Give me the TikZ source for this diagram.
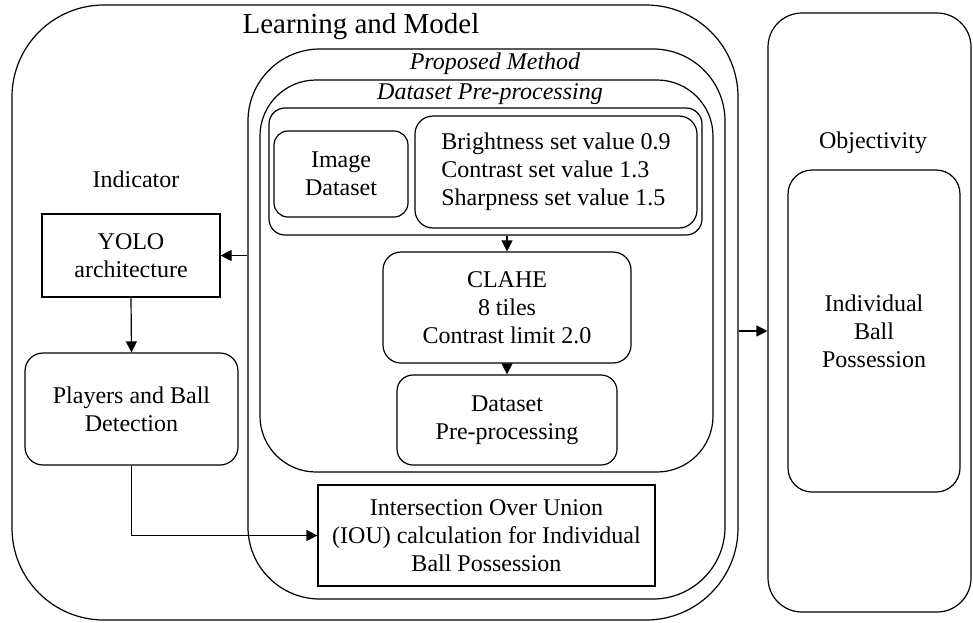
\documentclass[tikz,border=0pt]{standalone}
\usepackage{fontspec}
\setmainfont{Liberation Serif}
\usetikzlibrary{arrows.meta}

\begin{document}
\begin{tikzpicture}[x=0.5pt,y=-0.5pt,line width=0.6pt,
  box/.style={draw,align=center,inner sep=0pt,font=\fontsize{12}{14}\selectfont},
  arr/.style={-{Triangle[length=5.5pt,width=5.5pt]}}]
\useasboundingbox (0,0) rectangle (973,622);
% containers
\node[box,rounded corners=46pt,minimum width=363pt,minimum height=307.5pt] (lm) at (375,312.5) {};
\node[box,rounded corners=36pt,minimum width=238.5pt,minimum height=275pt] (pm) at (486.5,324) {};
\node[box,rounded corners=28pt,minimum width=226.5pt,minimum height=196pt] (dp) at (486.5,276) {};
\node[box,rounded corners=8pt,minimum width=216.5pt,minimum height=63.5pt] (ip) at (485.5,171.5) {};
\node[box,rounded corners=17pt,minimum width=101.5pt,minimum height=299.5pt] (obj) at (869.5,312.5) {};
% boxes
\node[box,rounded corners=7pt,minimum width=67pt,minimum height=43pt] (img) at (341,174) {Image\\Dataset};
\node[box,rounded corners=9pt,minimum width=141pt,minimum height=56pt,align=left] (bcs) at (556,172) {Brightness set value 0.9\\Contrast set value 1.3\\Sharpness set value 1.5};
\node[box,rounded corners=9pt,minimum width=124pt,minimum height=55.5pt] (clahe) at (507,307.5) {CLAHE\\8 tiles\\Contrast limit 2.0};
\node[box,rounded corners=8pt,minimum width=110pt,minimum height=45pt] (dset) at (507,420) {Dataset\\Pre-processing};
\node[box,minimum width=168.5pt,minimum height=50.5pt] (iou) at (486.5,535.5) {Intersection Over Union\\(IOU) calculation for Individual\\Ball Possession};
\node[box,minimum width=89pt,minimum height=41.5pt] (yolo) at (131,255.5) {YOLO\\architecture};
\node[box,rounded corners=9pt,minimum width=106.5pt,minimum height=56pt] (play) at (131.5,409) {Players and Ball\\Detection};
\node[box,rounded corners=12pt,minimum width=86pt,minimum height=161pt] (ibp) at (874,331) {Individual\\Ball\\Possession};
% titles
\node[font=\fontsize{14.5}{16}\selectfont] (tlm) at (361,27) {Learning and Model};
\foreach \n/\x/\y/\t in {tpm/495/64/Proposed Method,tdp/490/94/Dataset Pre-processing}
  {\node[font=\fontsize{12}{14}\selectfont\itshape] (\n) at (\x,\y) {\t};}
\foreach \n/\x/\y/\t in {tind/136/179/Indicator,tobj/873/143/Objectivity}
  {\node[font=\fontsize{12}{14}\selectfont] (\n) at (\x,\y) {\t};}
% arrows
\draw[arr] (ip.south -| clahe.north) -- (clahe.north);
\draw[arr] (clahe.south) -- (dset.north);
\draw[arr] (pm.west |- yolo.east) -- (yolo.east);
\draw[arr] (yolo.south) -- (play.north);
\draw[arr] (play.south) |- (iou.west);
\draw[arr] (lm.east |- ibp.west) -- (obj.west |- ibp.west);
\end{tikzpicture}
\end{document}
